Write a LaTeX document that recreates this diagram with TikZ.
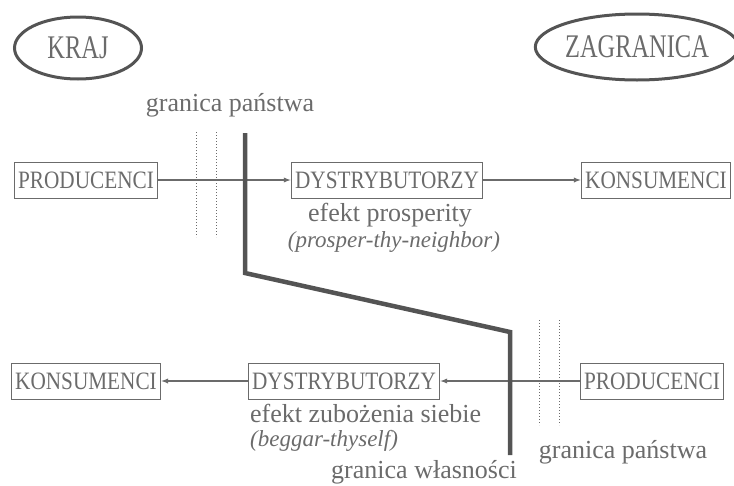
\documentclass[tikz,border=0pt]{standalone}
\usepackage{fontspec}
\setmainfont{Liberation Serif}
\newfontfamily\boxfont[FakeStretch=0.85]{Liberation Serif}
\newfontfamily\ovalfont[FakeStretch=0.74]{Liberation Serif}
\usetikzlibrary{shapes.geometric}
\definecolor{ink}{gray}{0.42}
\definecolor{darkink}{gray}{0.33}
\begin{document}
\begin{tikzpicture}[>=latex, x=1pt, y=-1pt,
  kasa/.style={draw=ink, line width=1pt, text=ink, font=\boxfont\fontsize{25}{28}\selectfont, inner xsep=4pt, inner ysep=0pt, minimum height=36pt},
  owal/.style={ellipse, draw=darkink, line width=3pt, text=ink, font=\ovalfont\fontsize{33}{36}\selectfont, inner sep=0pt},
  opis/.style={text=ink, font=\fontsize{26}{30}\selectfont, inner sep=0pt},
  kursywa/.style={text=ink, font=\itshape\fontsize{23}{27}\selectfont, inner sep=0pt},
  strz/.style={->, draw=ink, line width=1.3pt},
  kropki/.style={draw=ink, dotted, line width=1pt}]
\useasboundingbox (0,0) rectangle (734,485);
\node[owal, minimum width=127pt, minimum height=62pt] (kraj) at (78,48) {KRAJ};
\node[owal, minimum width=186pt, minimum height=66pt] (zagr) at (637,47) {ZAGRANICA};

\node[kasa] (prodA) at (86,180) {PRODUCENCI};
\node[kasa] (dystA) at (387,180) {DYSTRYBUTORZY};
\node[kasa] (konsA) at (656,180) {KONSUMENCI};
\node[kasa] (konsB) at (86,381) {KONSUMENCI};
\node[kasa] (dystB) at (344,381) {DYSTRYBUTORZY};
\node[kasa] (prodB) at (652,381) {PRODUCENCI};

\draw[kropki] (196,132)--(196,237);
\draw[kropki] (216,132)--(216,237);
\draw[kropki] (539,320)--(539,425);
\draw[kropki] (559,320)--(559,425);

\draw[strz] (prodA)--(dystA);
\draw[strz] (dystA)--(konsA);
\draw[strz] (prodB)--(dystB);
\draw[strz] (dystB)--(konsB);

\coordinate (w1) at (245,133);
\coordinate (w2) at (245,273);
\coordinate (w3) at (510,332);
\coordinate (w4) at (510,455);
\draw[darkink, line width=4.5pt, line join=miter] (w1)--(w2)--(w3)--(w4);

\node[opis] (granA) at (230,105) {granica państwa};
\node[opis] (effA) at (390,215) {efekt prosperity};
\node[kursywa] (itA) at (394,242) {(prosper-thy-neighbor)};
\node[opis, anchor=west] (effB) at (250,413) {efekt zubożenia siebie};
\node[kursywa, anchor=west] (itB) at (250,441) {(beggar-thyself)};
\node[opis] (granB) at (623,452) {granica państwa};
\node[opis] (granW) at (424,472) {granica własności};
\end{tikzpicture}
\end{document}
